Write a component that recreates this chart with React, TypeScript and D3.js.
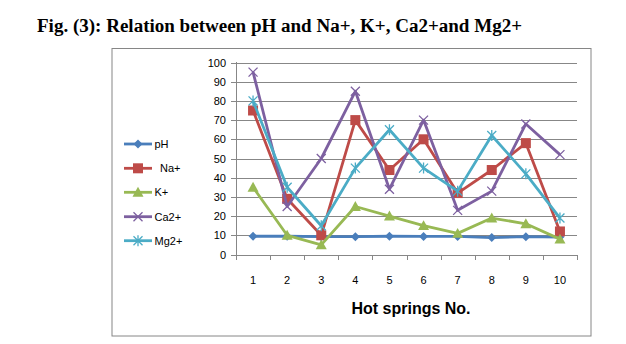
import React from "react";
import * as d3 from "d3";

const categories = ["1", "2", "3", "4", "5", "6", "7", "8", "9", "10"];
const yTicks = [0, 10, 20, 30, 40, 50, 60, 70, 80, 90, 100];
const pH = [9.5, 9.5, 9.3, 9.3, 9.5, 9.4, 9.4, 8.8, 9.3, 9.1];
const Na = [75, 29, 10, 70, 44, 60, 32, 44, 58, 12];
const K = [35, 10, 5, 25, 20, 15, 11, 19, 16, 8];
const Ca = [95, 25, 50, 85, 34, 70, 23, 33, 68, 52];
const Mg = [80, 35, 15, 45, 65, 45, 33, 62, 42, 19];
const seriesNames = ["pH", "Na+", "K+", "Ca2+", "Mg2+"];
const seriesValues = [pH, Na, K, Ca, Mg];
const colors = ["#4a7ebb", "#be4b48", "#98b954", "#7d60a0", "#4bacc6"];
const markers = ["diamond", "square", "triangle", "x", "star"];

function Marker({ type, x, y, color }: { type: string; x: number; y: number; color: string }) {
  if (type === "diamond") {
    const s = 4.5;
    return <path d={`M${x},${y - s}L${x + s},${y}L${x},${y + s}L${x - s},${y}Z`} fill={color} />;
  }
  if (type === "square") {
    const s = 5;
    return <rect x={x - s} y={y - s} width={2 * s} height={2 * s} fill={color} />;
  }
  if (type === "triangle") {
    const s = 5.5;
    return <path d={`M${x},${y - s}L${x + s},${y + s * 0.8}L${x - s},${y + s * 0.8}Z`} fill={color} />;
  }
  if (type === "x") {
    const s = 4.5;
    return (
      <path d={`M${x - s},${y - s}L${x + s},${y + s}M${x - s},${y + s}L${x + s},${y - s}`} stroke={color} strokeWidth={1.3} fill="none" />
    );
  }
  const s = 4.5;
  return (
    <path
      d={`M${x - s},${y - s}L${x + s},${y + s}M${x - s},${y + s}L${x + s},${y - s}M${x},${y - s - 1}L${x},${y + s + 1}`}
      stroke={color}
      strokeWidth={1.3}
      fill="none"
    />
  );
}

export default function App() {
  const W = 626, H = 344;
  const x = d3.scaleBand().domain(categories).range([236, 577]);
  const y = d3.scaleLinear().domain([0, 100]).range([254.5, 62.5]);
  const line = d3
    .line<number>()
    .x((_, i) => (x(categories[i]) as number) + x.bandwidth() / 2)
    .y((d) => y(d));
  const gridColor = "#878787";
  const font = "'Liberation Sans', Arial, sans-serif";
  const boundaries = d3.range(categories.length + 1).map((i) => 236 + i * x.bandwidth());
  const legendY = [144, 168.3, 192.3, 216.7, 240.7];

  return (
    <svg width={W} height={H} style={{ position: "absolute", left: 0, top: 0 }}>
      <rect x={0} y={0} width={W} height={H} fill="#fff" />
      <text x={37} y={32} fontFamily="'Liberation Serif', 'Times New Roman', serif" fontWeight="bold" fontSize={18} textLength={485} lengthAdjust="spacingAndGlyphs" fill="#000">
        Fig. (3): Relation between pH and Na+, K+, Ca2+and Mg2+
      </text>
      <rect x={112} y={48.5} width={479} height={287.5} fill="#fff" stroke="#868686" strokeWidth={1} />
      {yTicks.map((t) => (
        <g key={t}>
          <line x1={231} x2={577} y1={Math.round(y(t)) + 0.5} y2={Math.round(y(t)) + 0.5} stroke={gridColor} strokeWidth={1} />
          <text x={226} y={y(t) + 4} textAnchor="end" fontFamily={font} fontSize={11} fill="#000">
            {t}
          </text>
        </g>
      ))}
      <line x1={236.5} x2={236.5} y1={62} y2={255} stroke={gridColor} strokeWidth={1} />
      {boundaries.map((b, i) => (
        <line key={i} x1={Math.round(b) + 0.5} x2={Math.round(b) + 0.5} y1={255} y2={260} stroke={gridColor} strokeWidth={1} />
      ))}
      {categories.map((c) => (
        <text key={c} x={(x(c) as number) + x.bandwidth() / 2} y={284} textAnchor="middle" fontFamily={font} fontSize={11} fill="#000">
          {c}
        </text>
      ))}
      <text x={411} y={314} textAnchor="middle" fontFamily={font} fontWeight="bold" fontSize={16} fill="#000">
        Hot springs No.
      </text>
      {seriesValues.map((vals, si) => (
        <g key={si}>
          <path d={line(vals) as string} fill="none" stroke={colors[si]} strokeWidth={2.8} strokeLinejoin="round" />
          {vals.map((v, i) => (
            <Marker key={i} type={markers[si]} x={(x(categories[i]) as number) + x.bandwidth() / 2} y={y(v)} color={colors[si]} />
          ))}
        </g>
      ))}
      {seriesNames.map((n, si) => (
        <g key={n}>
          <line x1={124} x2={152} y1={legendY[si]} y2={legendY[si]} stroke={colors[si]} strokeWidth={2.8} />
          <Marker type={markers[si]} x={138} y={legendY[si]} color={colors[si]} />
          <text x={si === 1 ? 160 : 154.5} y={legendY[si] + 4} fontFamily={font} fontSize={11} fill="#000">
            {n}
          </text>
        </g>
      ))}
    </svg>
  );
}
